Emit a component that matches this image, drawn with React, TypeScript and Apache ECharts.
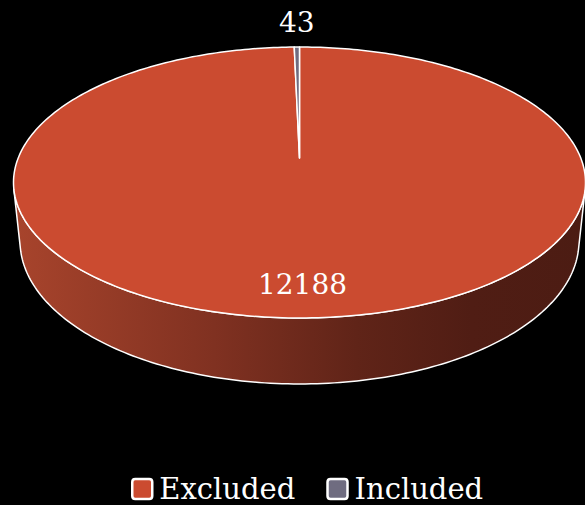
import React, { useEffect, useRef } from "react";
import * as echarts from "echarts";

const categories: string[] = ["Excluded", "Included"];
const values: number[] = [12188, 43];
const topColors: string[] = ["#cb4b30", "#6f6c80"];
const sideStops: [number, string][] = [
  [0, "#a8442c"],
  [0.35, "#803121"],
  [0.6, "#602418"],
  [0.8, "#501d14"],
  [1, "#4c1c13"],
];

// perspective projection parameters for the tilted disc
const CX = 299.5;
const CY = 158;
const F = 1376.6;
const L = 4.894;
const ALPHA = (27.77 * Math.PI) / 180;
const DEPTH = 0.2378;
const S = Math.sin(ALPHA);
const C = Math.cos(ALPHA);
const FONT = "DejaVu Serif";

function proj(theta: number, r: number, h: number): [number, number] {
  const u = r * Math.sin(theta);
  const v = -r * Math.cos(theta);
  const yc = h * C - v * S;
  const z = L - (v * C + h * S);
  return [CX + (F * u) / z, CY - (F * yc) / z];
}

function arc(a: number, b: number, r: number, h: number): [number, number][] {
  const n = Math.max(2, Math.ceil(((b - a) * 180) / Math.PI));
  const pts: [number, number][] = [];
  for (let i = 0; i <= n; i++) pts.push(proj(a + ((b - a) * i) / n, r, h));
  return pts;
}

const total = values.reduce((s, v) => s + v, 0);

export default function App() {
  const ref = useRef<HTMLDivElement>(null);
  useEffect(() => {
    if (!ref.current) return;
    const chart = echarts.init(ref.current, null, { renderer: "svg" });
    const visLimit = Math.acos(-1 / (L * C));
    const visA = visLimit;
    const visB = 2 * Math.PI - visLimit;

    const series = categories.map((name, i) => ({
      type: "custom",
      name,
      coordinateSystem: "none",
      silent: true,
      data: [values[i]],
      itemStyle: { color: topColors[i] },
      renderItem: (params: any, api: any) => {
        const val = api.value(0);
        const before = values.slice(0, i).reduce((s, v) => s + v, 0);
        const a = (before / total) * 2 * Math.PI;
        const b = ((before + val) / total) * 2 * Math.PI;
        const children: any[] = [];
        const lo = Math.max(a, visA);
        const hi = Math.min(b, visB);
        if (hi > lo) {
          const pts = arc(lo, hi, 1, 0).concat(arc(lo, hi, 1, -DEPTH).reverse());
          children.push({
            type: "polygon",
            shape: { points: pts },
            style: {
              fill: new echarts.graphic.LinearGradient(
                0, 0, 1, 0,
                sideStops.map(([offset, color]) => ({ offset, color }))
              ),
              stroke: "#ffffff",
              lineWidth: 1.5,
              lineJoin: "round",
            },
          });
        }
        const topPts = [proj(0, 0, 0)].concat(arc(a, b, 1, 0));
        children.push({
          type: "polygon",
          shape: { points: topPts },
          style: { fill: topColors[i], stroke: "#ffffff", lineWidth: 1.5, lineJoin: "round" },
        });
        const frac = val / total;
        const mid = (a + b) / 2;
        let lx: number, ly: number;
        if (frac > 0.05) {
          [lx, ly] = proj(mid, 0.82, 0);
        } else {
          const p = proj(mid, 1, 0);
          lx = p[0];
          ly = p[1] - 25;
        }
        children.push({
          type: "text",
          style: {
            text: String(val),
            x: lx,
            y: ly,
            fill: "#ffffff",
            fontSize: 28,
            fontFamily: FONT,
            align: "center",
            verticalAlign: "middle",
          },
        });
        return { type: "group", children };
      },
    }));

    chart.setOption({
      animation: false,
      backgroundColor: "#000000",
      legend: {
        data: categories,
        left: 131,
        top: 474,
        padding: 0,
        icon: "path://M3,0 H17 Q20,0 20,3 V17 Q20,20 17,20 H3 Q0,20 0,17 V3 Q0,0 3,0 Z",
        itemWidth: 20,
        itemHeight: 20,
        itemGap: 31,
        itemStyle: { borderColor: "#ffffff", borderWidth: 2.5 },
        textStyle: { color: "#ffffff", fontSize: 29, fontFamily: FONT, lineHeight: 30, padding: [0, 0, 0, 2] },
      },
      series,
    });
    return () => chart.dispose();
  }, []);
  return (
    <div
      ref={ref}
      style={{ position: "fixed", left: 0, top: 0, width: 585, height: 505, background: "#000" }}
    />
  );
}
